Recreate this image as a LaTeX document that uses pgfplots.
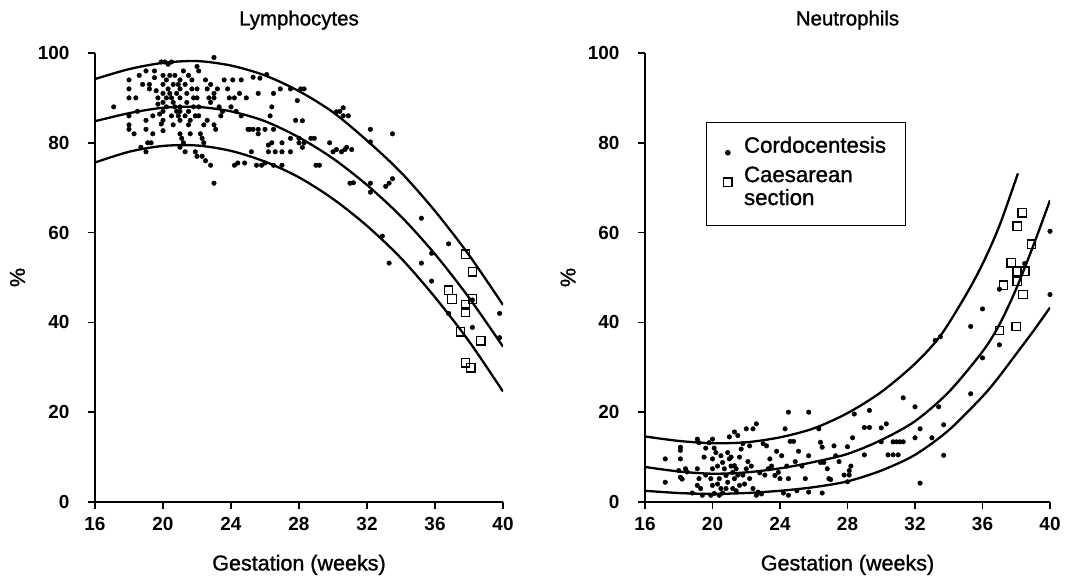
\documentclass[border=0pt]{standalone}
\usepackage{pgfplots}
\pgfplotsset{compat=1.18}
\usepackage{fontspec}
\setmainfont{Liberation Sans}
\newfontfamily\medfont{Liberation Sans}[FakeBold=1.2]

\pgfplotsset{
 panel/.style={
  scale only axis, width=408bp, height=449bp,
  xmin=16, xmax=40, ymin=0, ymax=100,
  axis lines=left, axis line style={-, line width=1.6bp},
  xtick={16,20,...,40}, ytick={0,20,...,100},
  tick align=outside, major tick length=7bp,
  tick style={line width=1.6bp, black},
  ticklabel style={font=\fontsize{19}{21}\selectfont\bfseries},
  xticklabel style={yshift=-5bp},
  yticklabel style={xshift=-15bp},
  /pgf/number format/assume math mode=true,
  xlabel={Gestation (weeks)}, ylabel={\%},
  label style={font=\fontsize{21.6}{25}\selectfont\medfont},
  xlabel style={at={(axis description cs:0.5,-0.14)}, anchor=center},
  ylabel style={at={(axis description cs:-0.19,0.5)}, anchor=center},
  title style={at={(axis description cs:0.5,1.06)}, anchor=center, font=\fontsize{20.5}{23}\selectfont\medfont},
 },
 curve/.style={black, line width=2.3bp, smooth, no markers},
 dots/.style={only marks, mark=*, mark size=2.3bp, black},
 squares/.style={only marks, mark=square, mark size=4.2bp, black, mark options={line width=1.3bp, fill=white}},
}

\begin{document}
\begin{tikzpicture}
\useasboundingbox (0,0) rectangle (1077bp,580bp);

\begin{axis}[panel, at={(95bp,78bp)}, anchor=south west, title={Lymphocytes}]
\addplot[curve] coordinates {(16,94.2) (18,96.4) (20,97.8) (22,98.2) (24,97.2) (26,95) (28,91.5) (30,86.8) (32,80.5) (34,73.4) (36,64.8) (38,55) (40,43.9)};
\addplot[curve] coordinates {(16,84.8) (18,86.6) (20,87.8) (22,88) (24,87) (26,84.8) (28,81.2) (30,76.5) (32,70.6) (34,63.6) (36,55.2) (38,45.5) (40,34.6)};
\addplot[curve] coordinates {(16,75.6) (18,78) (20,79.3) (22,79.4) (24,78.2) (26,75.8) (28,72.3) (30,67.5) (32,61.5) (34,54.3) (36,45.6) (38,35.8) (40,24.6)};
\addplot[dots] table {
17.1 88
18 94
18 92
18 90
18 86
18 84
18 83
18.4 90
18.6 95
18.8 93
19 96
19 85
19 83
19.1 80
19.3 80
19.2 93
19.2 92
19.5 94.5
19.6 91.6
19.7 90
19.7 88.6
19.8 86.4
19.9 84.2
20 82.7
19.9 98
20.1 98
20.3 97.5
20.5 98
20.3 92
20.4 91
20.5 90
20.6 89
20.7 88
20.8 87
20.9 86
21 85
20.2 94
20.4 95
20.6 93
20.8 91
21 90
21 88
21 87
20.5 86
20.6 84
21 82
21.1 81
21.2 80
21.3 93
21.4 91
21.4 89
21.5 87
21.5 84
21.6 82
21.2 96
21.5 95
21.7 92
21.8 90
21.8 88
21.9 86
22 92
22 90
22.1 88
22.1 86
22 97
22.1 96
22.2 82
22.3 81
22.4 80
22.5 94
22.6 92
22.7 90
22.8 89
22.8 93
23 91
23 90
23 99
23 84
23.1 83
23.6 94
23.8 92
23.9 90
24.1 94
24 88
24.2 90
24.3 87
24.6 86
24.6 94
25 83
25.1 83
25.3 83
25.3 94.6
25.6 91
25.6 83
25.6 82
26.3 86
26.2 79.5
26.2 78
26.5 91
26.6 78
25.2 78
25.5 75
25.8 75
22.5 76
22.8 75
23 71
22.3 77
24.4 75.5
24.8 75.5
24.2 75
22 77
21.9 78
26 75.5
26.5 75
27 75
26.4 80
26 83
26.5 83
27 78
27 80
27.5 81
27.5 78
27.8 85
28 81
28 80
28.2 79
28.3 80
28.7 81
29 75
29.8 80
30 78
30.4 87
30.5 78
30.6 86
30.8 79
31 71
25.7 94.4
26.1 95.2
26.9 92
27.5 92
28.1 92
28.3 92
26.4 88
27.9 89.4
28.2 84.9
28.9 81
29.2 75
30.2 86.9
30.6 87.8
30.9 86
30.2 78.5
30.7 78.5
31.1 78.5
32.2 83
32.2 80.2
33.5 82
31.2 71.1
32.2 71
32.2 69
33.1 70.3
33.3 71
33.5 72
32.9 59.2
35.2 63.2
36.8 57.5
33.3 53.2
35.2 53.2
35.8 55.4
35.8 49.2
36.8 42
38.2 38.9
38.2 45
39.8 42
39.8 36.6
20 95
20 93
20 91
20 89
20 87
20 85
20.2 90
20.2 88
20.7 95
20.9 93
21 92
21 94
21.3 86
21.6 85
21.7 94
19.5 96
19.4 86
19.4 82
18.5 87
18.3 82
18.7 79
19 78
21 79
21.3 78
22.6 85
22.4 84
23.3 88
23.4 86
23.5 87
23.2 92
24.5 91
24.9 90
};
\addplot[squares] table {
37.8 55.2
38.2 51.3
36.8 47.2
37.0 45.2
38.2 45.2
37.8 43.9
37.8 42.3
37.5 37.9
38.7 35.9
37.8 31.0
38.1 29.9
};
\end{axis}

\begin{axis}[panel, width=405bp, at={(645bp,78bp)}, anchor=south west, title={Neutrophils},
  legend style={at={(axis description cs:0.151,0.846)}, anchor=north west, draw=black, line width=1bp,
    font=\fontsize{22.3}{23}\selectfont\medfont, inner xsep=17bp, inner ysep=12bp, row sep=9bp,
    cells={anchor=base west},
    nodes={text depth={}},
    /tikz/every odd column/.append style={column sep=10bp}}]
\addplot[dots] table {
17.2 9.6
17.2 4.4
18.1 12.2
18.1 11.5
18.1 9.6
18.1 5.5
18.2 5.1
18.4 7.4
18.5 6.7
19.1 14
19.2 13.2
19.1 7.4
19.2 5.2
19.1 3.7
19.3 3
19.4 1.5
19.8 13.2
20 9.6
20 7.4
19.9 5.2
20 3.7
20.1 1.9
19.9 1.5
20 14
20.2 11
20.3 8
20.4 5.2
20.5 3
20.4 1.5
20.5 10.3
20.6 8.8
20.7 7.4
20.8 5.9
20.9 4.4
20.8 3
21 9.6
21.1 8
21.2 6.6
21.3 5.2
21.3 8.1
21.4 7.4
21.5 6
21.6 3.7
21 14.5
21.3 15.6
21.5 14.8
21.6 10
21.7 11.8
21.8 13
22 16.3
22.2 12.5
22.4 16.3
22.6 17.4
22 7.4
22.2 5.2
22.4 3
22.6 1.5
22.7 2.2
23 13
23.2 12.5
23.3 7.4
23.4 9.6
23.5 8
23.7 5.9
23.9 6.6
24 5.2
23.8 11.3
24.1 10.3
24.3 16.3
24.4 8
24.5 5.2
24.5 1.5
24.5 20
25.7 20
24.6 13.5
24.8 13.5
24.9 9
25.1 11.3
25.3 8
25.5 5.2
25.7 10.3
25.7 2.2
26.3 16.3
26.4 13.3
26.5 12.2
26.4 8.8
26.6 8.8
26.8 7.4
26.9 5.2
27.2 12.5
27.3 10.3
28.4 19.6
29.3 20.4
29 16.6
29.3 16.6
30 16.5
30.3 17.4
28.3 14.3
28 12.3
29 10.5
30 13.4
30.7 13.4
30.9 13.4
31.1 13.4
31.3 13.4
30.4 10.5
30.7 10.5
31 10.5
31.3 23.2
32 21.2
32.3 16.3
32 14.3
33 14.3
33.4 21.2
33.7 17.2
33.7 10.4
32.3 4.2
28 4.5
28.2 8
28.1 7
28.1 6
33.2 36
33.5 36.8
35.3 39.1
35.3 24.1
36 43
36 32.1
37 35
37 47.4
38.5 53.1
40 60.3
40 46.2
19.5 10
19.6 6
20.1 12
20.3 4
20.6 2
20.9 11
21.1 10
21.2 3
21.4 2.5
21.8 6
21.9 4
22.1 9
22.3 8
22.8 6.5
22.9 1.8
23.1 6
18 7
18.8 2
19.6 12
24.2 2
25 2.5
26.5 2
27 5
27.5 9
27.8 6
};
\addlegendentry{Cordocentesis}
\addplot[squares] table {
38.35 64.4
38.05 61.4
38.9 57.4
37.7 53.3
38.05 51.4
38.5 51.4
38.05 49.2
37.25 48.3
38.4 46.2
37.0 38.2
38.0 39.1
};
\addlegendentry{\begin{tabular}[t]{@{}l@{}}Caesarean\\section\end{tabular}}
\addplot[curve, forget plot] coordinates {(16,14.6) (18,13.6) (20,13.1) (22,13.3) (24,14.4) (26,16.4) (28,19.8) (30,24.5) (32,30.8) (33.5,37) (35,46) (36,53) (37,61.5) (38.1,73.2)};
\addplot[curve, forget plot] coordinates {(16,7.8) (18,6.8) (20,6.3) (22,6.6) (24,7.5) (26,8.9) (28,10.7) (30,13.8) (32,18) (34,24.5) (36,33.5) (37,39.5) (38,47.5) (39,57) (40,67.2)};
\addplot[curve, forget plot] coordinates {(16,2.5) (18,2) (20,1.8) (22,2) (24,2.5) (26,3.3) (28,4.6) (30,7) (32,10.5) (34,16) (36,23.5) (37,28) (38,33) (39,38) (40,43.3)};
\end{axis}
\end{tikzpicture}
\end{document}
